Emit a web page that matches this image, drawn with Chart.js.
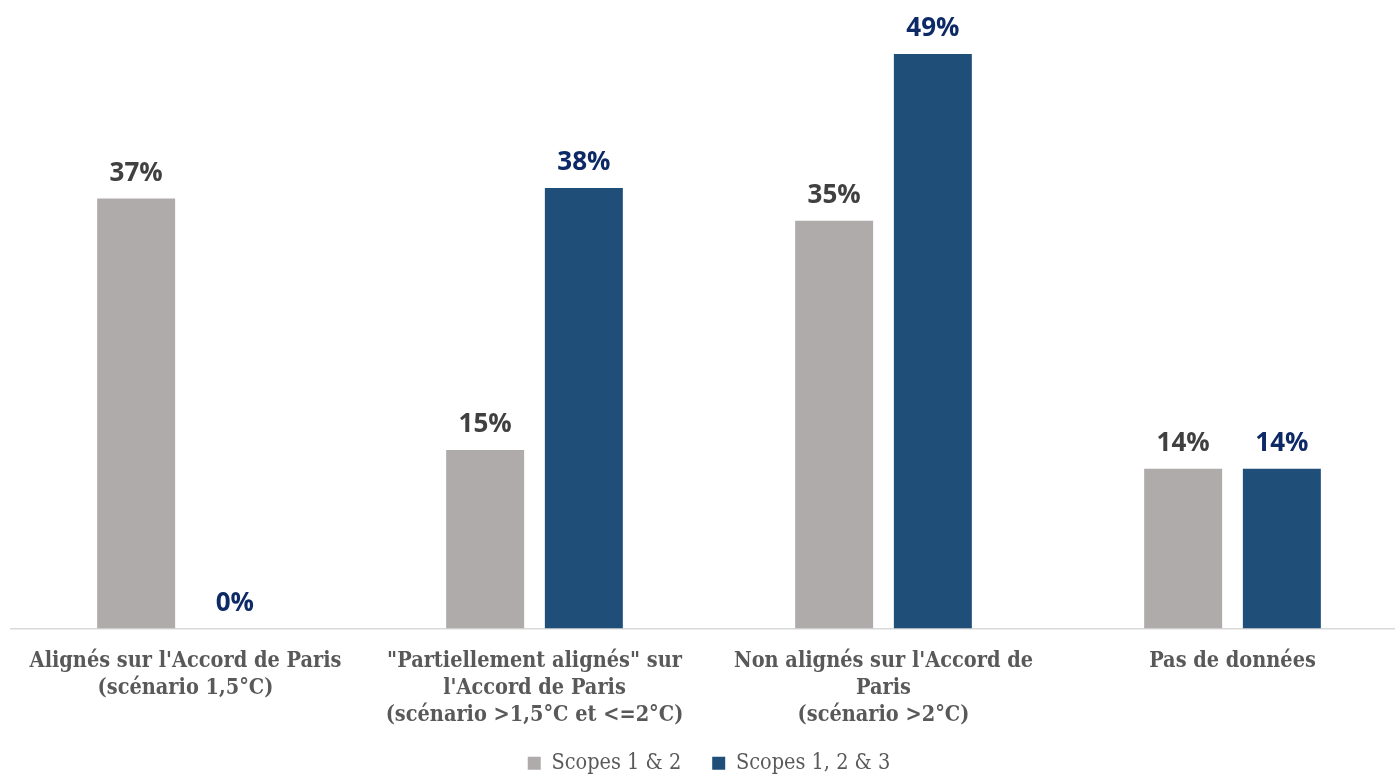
<!DOCTYPE html>
<html>
<head>
<meta charset="utf-8">
<script src="https://cdn.jsdelivr.net/npm/chart.js@4.4.0/dist/chart.umd.min.js"></script>
<style>
  html, body { margin: 0; padding: 0; background: #fff; overflow: hidden; }
  #wrap { width: 1410px; height: 774px; }
</style>
</head>
<body>
<div id="wrap"><canvas id="chart"></canvas></div>
<script>
const categories = [
  ["Alignés sur l'Accord de Paris", "(scénario 1,5°C)"],
  ['"Partiellement alignés" sur', "l'Accord de Paris", "(scénario >1,5°C et <=2°C)"],
  ["Non alignés sur l'Accord de", "Paris", "(scénario >2°C)"],
  ["Pas de données"]
];
const scopes12 = [36.6, 15.2, 34.7, 13.6];
const scopes123 = [0, 37.5, 48.9, 13.6];
const seriesNames = ['Scopes 1 & 2', 'Scopes 1, 2 & 3'];
const labelColors = ['#404040', '#0d2a66'];

const serif = '"DejaVu Serif Condensed", "DejaVu Serif", serif';
const axisOverlap = 27;

// value labels above each bar
const valueLabels = {
  id: 'valueLabels',
  afterLayout(chart) {
    // axis box was shrunk so the legend sits closer; widen the label clip back
    chart.scales.x.bottom += axisOverlap;
  },
  afterDatasetsDraw(chart) {
    const ctx = chart.ctx;
    ctx.save();
    ctx.font = 'bold 26px "Open Sans", sans-serif';
    ctx.textAlign = 'center';
    ctx.textBaseline = 'bottom';
    chart.data.datasets.forEach((ds, i) => {
      const meta = chart.getDatasetMeta(i);
      meta.data.forEach((bar, j) => {
        ctx.fillStyle = labelColors[i];
        ctx.fillText(Math.round(ds.data[j]) + '%', bar.x, bar.y - 12);
      });
    });
    ctx.restore();
  }
};

new Chart(document.getElementById('chart'), {
  type: 'bar',
  data: {
    labels: categories,
    datasets: [
      { label: seriesNames[0], data: scopes12, backgroundColor: '#afabab' },
      { label: seriesNames[1], data: scopes123, backgroundColor: '#1f4e79' }
    ]
  },
  options: {
    responsive: true,
    maintainAspectRatio: false,
    animation: false,
    categoryPercentage: 0.5656,
    barPercentage: 0.79,
    layout: { padding: { top: 41, left: 11, right: 3, bottom: -10 } },
    scales: {
      x: {
        grid: { display: false, drawTicks: false },
        border: { display: true, color: '#d9d9d9', width: 1.5 },
        afterFit(scale) { scale.height -= axisOverlap; },
        ticks: {
          color: '#595959',
          padding: 19,
          maxRotation: 0,
          autoSkip: false,
          font: { family: serif, size: 21.5, weight: 'bold', lineHeight: 1.27 }
        }
      },
      y: {
        display: false,
        min: 0,
        max: 50
      }
    },
    plugins: {
      legend: {
        position: 'bottom',
        labels: {
          color: '#595959',
          boxWidth: 13,
          boxHeight: 13,
          padding: 31,
          font: { family: serif, size: 21.5 }
        }
      },
      tooltip: { enabled: false }
    }
  },
  plugins: [valueLabels]
});
</script>
</body>
</html>
